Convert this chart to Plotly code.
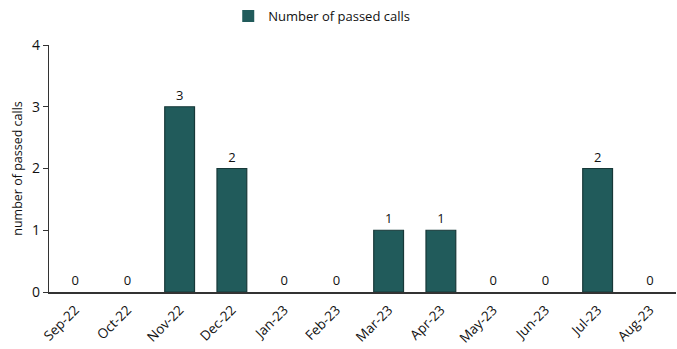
import plotly.graph_objects as go

months = ["Sep-22", "Oct-22", "Nov-22", "Dec-22", "Jan-23", "Feb-23",
          "Mar-23", "Apr-23", "May-23", "Jun-23", "Jul-23", "Aug-23"]
passed_calls = [0, 0, 3, 2, 0, 0, 1, 1, 0, 0, 2, 0]
y_ticks = [0, 1, 2, 3, 4]

FONT = "Open Sans, Noto Sans, sans-serif"
BAR = "#215b5b"
EDGE = "#173838"

# no outline on empty months so they don't show as a stroke on the axis
edge_widths = [1.2 if v else 0 for v in passed_calls]

fig = go.Figure(
    go.Bar(
        x=months,
        y=passed_calls,
        name="Number of passed calls",
        marker=dict(color=BAR, line=dict(color=EDGE, width=edge_widths)),
        text=passed_calls,
        textposition="outside",
        textfont=dict(size=13, color="#111111", family=FONT),
        cliponaxis=False,
    )
)

fig.update_layout(
    width=677,
    height=349,
    margin=dict(l=49, r=1, t=45, b=57),
    paper_bgcolor="white",
    plot_bgcolor="white",
    font=dict(family=FONT, color="#111111"),
    bargap=0.43,
    showlegend=True,
    legend=dict(
        orientation="h",
        x=0.435, xanchor="center",
        y=1.117, yanchor="middle",
        font=dict(size=13, family=FONT),
        itemwidth=30,
    ),
    xaxis=dict(
        type="category",
        tickangle=-45,
        tickfont=dict(size=13.5),
        showline=True,
        linecolor="#333333",
        linewidth=1.5,
        ticks="outside",
        ticklen=3,
        tickcolor="rgba(0,0,0,0)",
        showgrid=False,
    ),
    yaxis=dict(
        range=[0, 4],
        tickvals=y_ticks,
        tickfont=dict(size=14),
        ticks="outside",
        ticklen=5,
        tickcolor="#333333",
        showline=True,
        linecolor="#333333",
        linewidth=1.2,
        showgrid=False,
        zeroline=False,
        title=dict(text="number of passed calls", font=dict(size=12.5), standoff=6),
    ),
)

fig.write_html("out.html")
